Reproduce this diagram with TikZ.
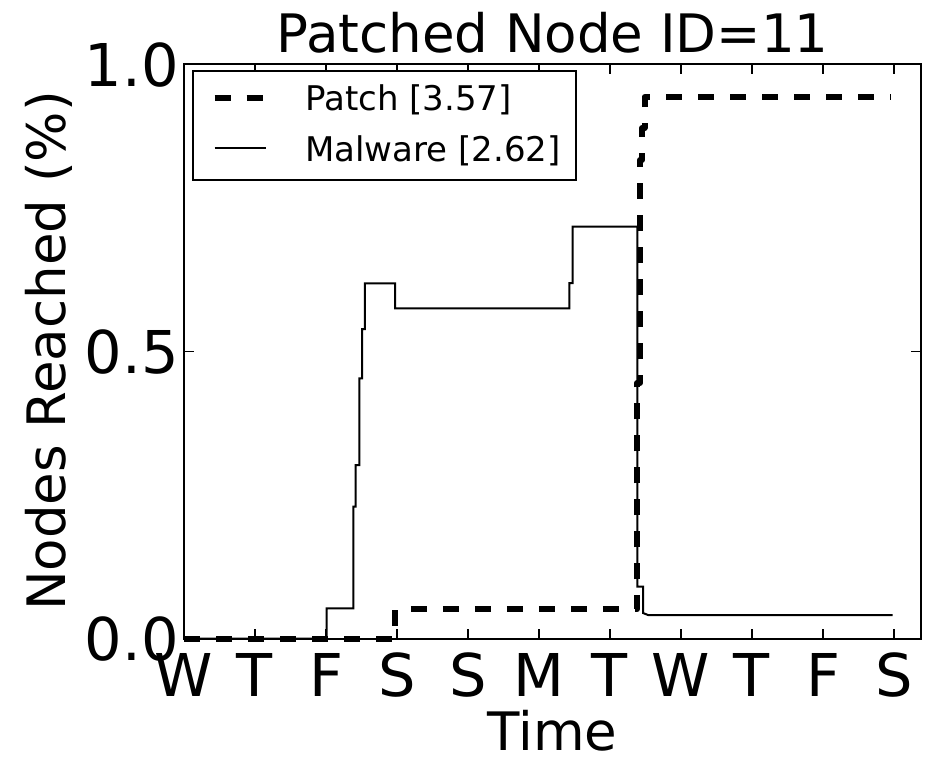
\documentclass[tikz,border=0pt]{standalone}
\usepackage{fontspec}
\setmainfont{DejaVu Sans}
\usetikzlibrary{positioning}

\begin{document}
\begin{tikzpicture}[x=1pt,y=1pt,
    every node/.style={inner sep=0pt},
    ticklab/.style={font=\fontsize{59}{59}\selectfont},
    axlab/.style={font=\fontsize{53}{53}\selectfont},
    leglab/.style={font=\fontsize{34}{34}\selectfont,anchor=base west},
    tickmark/.style={line width=1.5pt},
    patchline/.style={line width=6pt,dash pattern=on 16pt off 16pt,line join=round},
    malline/.style={line width=2pt}]

  \useasboundingbox (0,0) rectangle (925,756);

  % data, in days and fraction of nodes
  \begin{scope}[shift={(184,117.5)},x=71pt,y=574.5pt]
    \draw[patchline] (0,0) -- (2.972,0) -- (2.972,0.0508) -- (6.380,0.0508)
      -- (6.380,0.4447) -- (6.423,0.4447) -- (6.423,0.833) -- (6.451,0.833)
      -- (6.451,0.8886) -- (6.486,0.8886) -- (6.486,0.9426) -- (9.96,0.9426);
    \draw[malline] (0,0) -- (2.010,0) -- (2.010,0.0526) -- (2.385,0.0526)
      -- (2.385,0.2294) -- (2.418,0.2294) -- (2.418,0.302) -- (2.469,0.302)
      -- (2.469,0.4529) -- (2.507,0.4529) -- (2.507,0.5387) -- (2.549,0.5387)
      -- (2.549,0.6183) -- (2.972,0.6183) -- (2.972,0.5748) -- (5.427,0.5748)
      -- (5.427,0.6186) -- (5.475,0.6186) -- (5.475,0.7171) -- (6.385,0.7171)
      -- (6.385,0.0902) -- (6.465,0.0902) -- (6.465,0.0444) -- (6.535,0.0409)
      -- (9.982,0.0409);

    % frame and ticks
    \foreach \k in {0,...,10} {
      \draw[tickmark] (\k,0) -- ++(0,10pt);
      \draw[tickmark] (\k,1) -- ++(0,-10pt);
    }
    \foreach \v in {0,0.5,1} {
      \draw[tickmark] (0,\v) -- ++(10pt,0);
      \draw[tickmark] (10.38,\v) -- ++(-10pt,0);
    }
    \draw[line width=2pt] (0,0) rectangle (10.38,1);

    \foreach \d [count=\i from 0] in {W,T,F,S,S,M,T,W,T,F,S}
      \node[ticklab,anchor=base] (xt\i) at ([yshift=-57.5pt]\i,0) {\d};
    \foreach \v/\t [count=\i] in {0/0.0,0.5/0.5,1/1.0}
      \node[ticklab,anchor=east] (yt\i) at ([xshift=-5pt,yshift=-1pt]0,\v) {\t};
  \end{scope}

  % labels
  \node[axlab,anchor=base] (title) at (552.5,703) {Patched Node ID=11};
  \node[axlab,anchor=base] (xlab) at (552.5,6) {Time};
  \node[axlab,rotate=90,anchor=base] (ylab) at (65,405) {Nodes Reached (\%)};

  % legend
  \node[draw,fill=white,line width=2pt,minimum width=383pt,minimum height=109pt,
        anchor=north west] (legbox) at (191.7,686) {};
  \coordinate (patchkey) at ([xshift=23pt,yshift=-28.3pt]legbox.north west);
  \coordinate (malkey) at ([xshift=23pt,yshift=-78.3pt]legbox.north west);
  \draw[patchline] (patchkey) -- ++(51pt,0);
  \draw[malline] (malkey) -- ++(51pt,0);
  \node[leglab] (patchtext) at ([xshift=113.3pt,yshift=-40.7pt]legbox.north west) {Patch [3.57]};
  \node[leglab] (maltext) at ([xshift=113.3pt,yshift=-91.7pt]legbox.north west) {Malware [2.62]};

\end{tikzpicture}
\end{document}
